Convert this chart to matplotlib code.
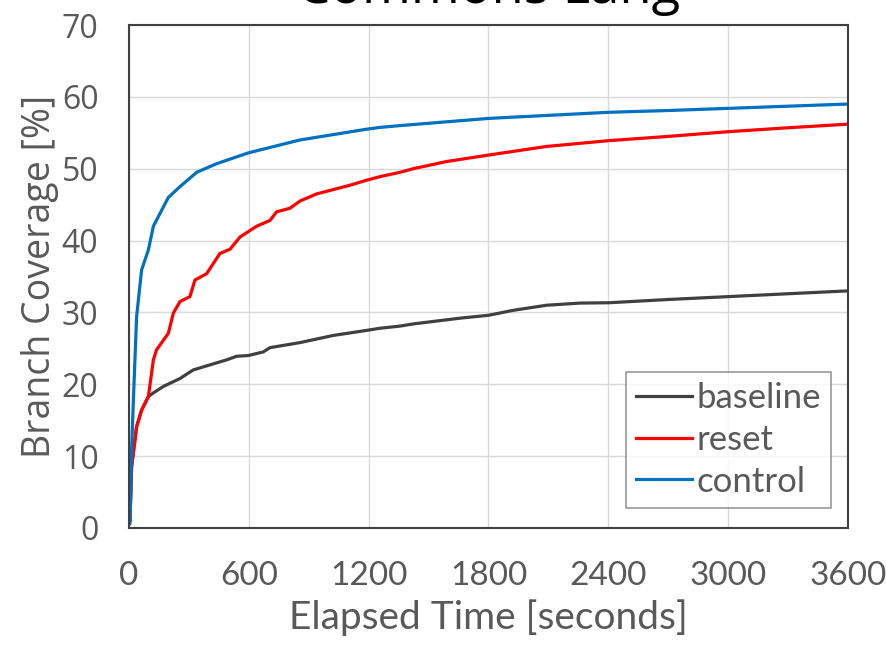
import matplotlib
matplotlib.use("Agg")
import matplotlib.pyplot as plt

# ---- data ----
t_baseline = [0, 5, 13, 38, 63, 97, 122, 172, 255, 322, 405, 489, 539, 597, 672, 706, 856,
              1023, 1190, 1257, 1357, 1423, 1657, 1800, 1925, 2091, 2258, 2405, 2700, 3000, 3300, 3600]
v_baseline = [0.6, 1.1, 8.5, 14.1, 16.4, 18.3, 18.8, 19.7, 20.8, 22.0, 22.7, 23.4, 23.9, 24.0, 24.5, 25.1, 25.8,
              26.8, 27.5, 27.8, 28.1, 28.4, 29.2, 29.6, 30.3, 31.0, 31.3, 31.35, 31.8, 32.2, 32.6, 33.0]

t_reset = [0, 5, 13, 38, 63, 97, 122, 138, 197, 222, 255, 305, 330, 389, 455, 506, 556, 639, 706,
           739, 806, 856, 940, 1106, 1190, 1257, 1357, 1423, 1590, 1800, 2091, 2400, 2700, 3000, 3300, 3600]
v_reset = [0.6, 1.1, 8.5, 14.1, 16.4, 18.3, 23.4, 24.8, 27.1, 29.9, 31.5, 32.2, 34.5, 35.4, 38.2, 38.8, 40.5, 42.0, 42.8,
           44.0, 44.5, 45.5, 46.5, 47.7, 48.4, 48.9, 49.5, 50.0, 51.0, 51.9, 53.1, 53.9, 54.5, 55.15, 55.7, 56.2]

t_control = [0, 5, 13, 22, 38, 63, 97, 122, 197, 255, 339, 439, 597, 856, 1190, 1257, 1357,
             1800, 2400, 2700, 3000, 3300, 3600]
v_control = [0.6, 0.6, 10.9, 17.8, 29.4, 35.9, 38.7, 42.0, 46.0, 47.5, 49.5, 50.7, 52.2, 54.0, 55.5, 55.75, 56.0,
             57.0, 57.85, 58.1, 58.4, 58.7, 59.0]

series_names = ["baseline", "reset", "control"]
series_colors = ["#404040", "#FF0000", "#0070C0"]

x_ticks = [0, 600, 1200, 1800, 2400, 3000, 3600]
y_ticks = [0, 10, 20, 30, 40, 50, 60, 70]

title = "Commons Lang"
x_label = "Elapsed Time [seconds]"
y_label = "Branch Coverage [%]"

# ---- figure ----
fig = plt.figure(figsize=(8.87, 6.46), dpi=100)
ax = fig.add_axes([129 / 887, 1 - 528 / 646, (848 - 129) / 887, (528 - 25) / 646])

gray_text = "#595959"

for (t, v), name, col in zip([(t_baseline, v_baseline), (t_reset, v_reset), (t_control, v_control)],
                             series_names, series_colors):
    ax.plot(t, v, color=col, lw=2.3, label=name, solid_joinstyle="round")

ax.set_xlim(0, 3600)
ax.set_ylim(0, 70)
ax.set_xticks(x_ticks)
ax.set_yticks(y_ticks)
ax.set_xticklabels([str(v) for v in x_ticks], fontfamily="Lato", fontsize=24, color=gray_text)
ax.set_yticklabels([str(v) for v in y_ticks], fontfamily="Open Sans", fontsize=23, color=gray_text)
ax.tick_params(axis="both", length=0)
ax.tick_params(axis="y", pad=22)
ax.tick_params(axis="x", pad=24)
ax.grid(True, color="#d9d9d9", lw=1.0)
ax.set_axisbelow(True)
for s in ax.spines.values():
    s.set_color("#404040")
    s.set_linewidth(1.5)

ax.set_xlabel(x_label, fontfamily="Lato", fontsize=28, color=gray_text, labelpad=6)
ax.set_ylabel(y_label, fontfamily="Open Sans", fontsize=27, color=gray_text, labelpad=2)

fig.text(489 / 887, 1 - 3 / 646, title, fontfamily="Open Sans", fontsize=38, color="black",
         ha="center", va="baseline")

leg = ax.legend(loc="lower right", bbox_to_anchor=(831 / 887, 1 - 508 / 646), bbox_transform=fig.transFigure,
                prop={"family": "Lato", "size": 25}, frameon=True, fancybox=False,
                handlelength=1.6, handletextpad=0.12, labelspacing=0.28, borderpad=0.3,
                borderaxespad=0)
leg.get_frame().set_edgecolor("#7f7f7f")
leg.get_frame().set_linewidth(1.2)
for txt in leg.get_texts():
    txt.set_color(gray_text)

fig.savefig("out.png", dpi=100)
